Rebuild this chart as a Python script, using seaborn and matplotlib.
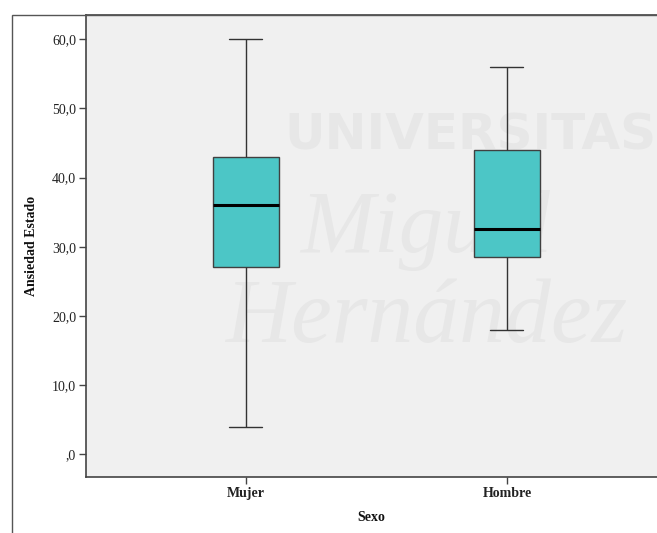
import matplotlib
matplotlib.use("Agg")
import matplotlib.pyplot as plt
import seaborn as sns
import pandas as pd
from matplotlib.patches import Rectangle

# Five-number summaries per group (min, Q1, median, Q3, max)
categories = ["Mujer", "Hombre"]
mujer_values = [4.0, 27.0, 36.0, 43.0, 60.0]
hombre_values = [18.0, 28.5, 32.5, 44.0, 56.0]
y_ticks = [0, 10, 20, 30, 40, 50, 60]
y_tick_labels = [",0", "10,0", "20,0", "30,0", "40,0", "50,0", "60,0"]

df = pd.DataFrame({
    "Sexo": [categories[0]] * len(mujer_values) + [categories[1]] * len(hombre_values),
    "Ansiedad Estado": mujer_values + hombre_values,
})

sns.set_theme(style="white")
plt.rcParams["font.family"] = ["Liberation Serif", "DejaVu Serif"]

W, H = 657, 533
fig = plt.figure(figsize=(W / 100, H / 100), dpi=100)
fig.patch.set_facecolor("white")

ax = fig.add_axes([86 / W, 1 - 477 / H, 1 - 86 / W, (477 - 15) / H])
ax.set_facecolor("#f0f0f0")

# faint institutional watermark behind the data
for txt, x, y, kw in [
    ("UNIVERSITAS", 284, 150, dict(fontsize=36, fontweight="bold", family="DejaVu Sans")),
    ("Miguel", 300, 252, dict(fontsize=64, style="italic", family="Liberation Serif")),
    ("Hernández", 226, 342, dict(fontsize=66, style="italic", family="Liberation Serif")),
]:
    ax.text(x / W, 1 - y / H, txt, transform=fig.transFigure, color="#e7e7e7",
            zorder=1, **kw)

sns.boxplot(
    data=df, x="Sexo", y="Ansiedad Estado", order=categories,
    whis=(0, 100), width=0.253, color="#4cc6c6", saturation=1,
    linecolor="#404040", linewidth=1.0,
    medianprops=dict(color="black", linewidth=2.2),
    capprops=dict(color="#333333"),
    whiskerprops=dict(color="#333333"),
    showfliers=False, ax=ax,
)
for p in ax.patches:
    p.set_zorder(3)
for ln in ax.lines:
    ln.set_zorder(4)

ax.set_xlim(-0.613, 1.575)
ax.set_ylim(-3.3, 63.5)
ax.set_yticks(y_ticks)
ax.set_yticklabels(y_tick_labels)
ax.tick_params(axis="both", which="both", direction="out", length=5, width=1,
               color="#444444", labelsize=10, labelcolor="#222222",
               left=True, bottom=True, pad=2)
for lab in ax.get_xticklabels():
    lab.set_fontweight("bold")
ax.set_xlabel("Sexo", fontsize=10, fontweight="bold", color="#111111", labelpad=8)
ax.set_ylabel("Ansiedad Estado", fontsize=10, fontweight="bold", color="#111111", labelpad=10)

for side in ["left", "bottom", "top"]:
    ax.spines[side].set_visible(True)
    ax.spines[side].set_color("#444444")
    ax.spines[side].set_linewidth(1.2)
ax.spines["right"].set_visible(False)
ax.grid(False)

# outer chart frame
fig.patches.append(Rectangle((12 / W, -0.1), 1.2, 1 - 15 / H + 0.1,
                             transform=fig.transFigure, fill=False,
                             edgecolor="#555555", linewidth=1.0, zorder=0))

fig.savefig("out.png", dpi=100)
